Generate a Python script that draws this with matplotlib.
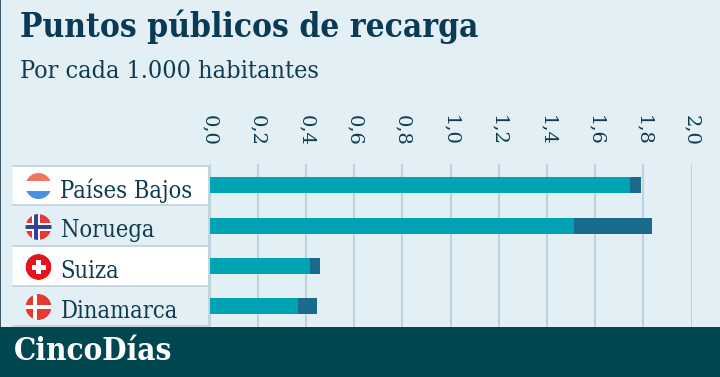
import matplotlib
matplotlib.use('Agg')
import matplotlib.pyplot as plt
from matplotlib.patches import Circle, Rectangle

# datos
paises = ['Países Bajos', 'Noruega', 'Suiza', 'Dinamarca']
rapidos = [1.745, 1.512, 0.417, 0.367]
total = [1.79, 1.836, 0.458, 0.445]
ticks = [0.0, 0.2, 0.4, 0.6, 0.8, 1.0, 1.2, 1.4, 1.6, 1.8, 2.0]

W, H = 720, 377
FONDO = '#E2EFF4'
TEXTO = '#0F3A50'
SERIF = ['DejaVu Serif', 'Liberation Serif']

fig = plt.figure(figsize=(W / 100, H / 100), dpi=100, facecolor=FONDO)

# capa en pixeles para cajas, banderas y textos
bg = fig.add_axes([0, 0, 1, 1], zorder=0)
bg.set_xlim(0, W)
bg.set_ylim(H, 0)
bg.axis('off')

# ejes de las barras: x=0 en 209.5 px, x=2 en 691.5 px
ax = fig.add_axes([209.5 / W, (H - 327) / H, 482 / W, 163 / H], zorder=1)
ax.patch.set_alpha(0)
ax.set_xlim(0, 2)
ax.set_ylim(327, 164)
centros = [185, 226, 265.5, 306]
ax.barh(centros, rapidos, height=16, color='#00A3B4', zorder=3)
ax.barh(centros, [t - r for t, r in zip(total, rapidos)], left=rapidos, height=16, color='#1A6A8C', zorder=3)
ax.set_xticks(ticks)
ax.set_xticklabels([f'{t:.1f}'.replace('.', ',') for t in ticks], rotation=270, family=SERIF,
                   fontsize=14, color=TEXTO)
ax.xaxis.tick_top()
ax.tick_params(axis='x', length=0, pad=13)
ax.set_yticks([])
ax.grid(axis='x', color='#BDD2DC', lw=1.5, zorder=1)
ax.set_axisbelow(True)
for s in ax.spines.values():
    s.set_visible(False)

# filas de paises
for i, (p, yc) in enumerate(zip(paises, [191, 231, 271, 311])):
    top = [166, 205, 246, 286][i]
    bottom = [205, 246, 286, 326][i]
    if i % 2 == 0:
        bg.add_patch(Rectangle((13, top), 195, bottom - top, fc='white', ec='none'))
    bg.plot([13, 208], [bottom, bottom], color='#BDD2DC', lw=1.2)
    bg.text(60.5, yc, p, family=SERIF, stretch='condensed', fontsize=17, color=TEXTO, va='center', ha='left')
bg.plot([13, 208], [166, 166], color='#BDD2DC', lw=1.2)
bg.plot([208.5, 208.5], [166, 326], color='#BDD2DC', lw=1.2)


def bandera(yc, dibuja):
    clip = Circle((38.5, yc), 13, transform=bg.transData)
    for art in dibuja(yc):
        bg.add_patch(art)
        art.set_clip_path(clip)


def holanda(y):
    return [Rectangle((25, y - 13), 27, 8, fc='#F0755F', ec='none'), Rectangle((25, y - 5), 27, 10, fc='white', ec='none'),
            Rectangle((25, y + 5), 27, 9, fc='#4A90E0', ec='none')]


def noruega(y):
    return [Circle((38.5, y), 13, fc='#E8383B', ec='none'), Rectangle((32, y - 13), 8, 26, fc='white', ec='none'),
            Rectangle((25, y - 4), 27, 8, fc='white', ec='none'), Rectangle((34, y - 13), 4, 26, fc='#3A3F8F', ec='none'),
            Rectangle((25, y - 2), 27, 4, fc='#3A3F8F', ec='none')]


def suiza(y):
    return [Circle((38.5, y), 13, fc='#E3141C', ec='none'), Rectangle((36, y - 7), 5, 14, fc='white', ec='none'),
            Rectangle((31.5, y - 2.5), 14, 5, fc='white', ec='none')]


def dinamarca(y):
    return [Circle((38.5, y), 13, fc='#E43A34', ec='none'), Rectangle((33, y - 13), 4, 26, fc='white', ec='none'),
            Rectangle((25, y - 2), 27, 4, fc='white', ec='none')]


for f, y in zip([holanda, noruega, suiza, dinamarca], [186, 227, 267, 307]):
    bandera(y, f)

# titulos
bg.text(20, 27, 'Puntos públicos de recarga', family=SERIF, stretch='condensed', fontsize=24, fontweight='bold',
        color='#0B3A55', va='center', ha='left')
bg.text(20, 72, 'Por cada 1.000 habitantes', family=SERIF, stretch='condensed', fontsize=18, color=TEXTO, va='center', ha='left')

# borde izquierdo y banda inferior
bg.add_patch(Rectangle((0, 0), 1.2, H, fc='#3D5A68', ec='none'))
top = fig.add_axes([0, 0, 1, 1], zorder=2)
top.set_xlim(0, W)
top.set_ylim(H, 0)
top.axis('off')
top.add_patch(Rectangle((0, 327), W, 50, fc='#00474F', ec='none'))
top.text(14, 352, 'CincoDías', family=SERIF, stretch='condensed', fontsize=22.5, fontweight='bold', color='white', va='center', ha='left')

fig.savefig('out.png', dpi=100, facecolor=FONDO)
